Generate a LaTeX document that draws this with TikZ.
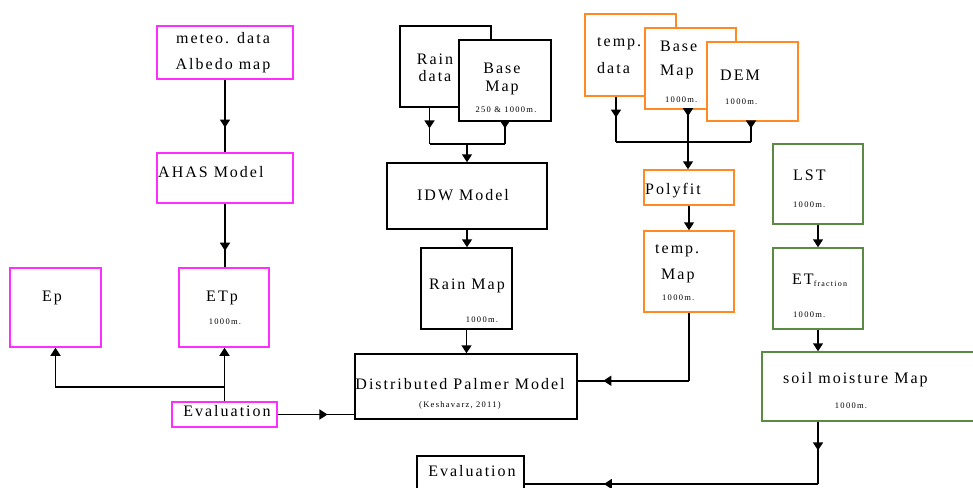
\documentclass[tikz,border=0pt]{standalone}
\usepackage{fontspec}
\setmainfont[LetterSpace=12.5]{Liberation Serif}
\newfontfamily\smallfont[LetterSpace=15]{Liberation Serif}
\usepackage{tikz}
\usetikzlibrary{calc}
\usetikzlibrary{arrows.meta}
\usetikzlibrary{decorations.markings}
\definecolor{pinkline}{HTML}{FF2EFF}
\definecolor{orangeline}{HTML}{FF8A24}
\definecolor{greenline}{HTML}{5A8A44}
\newcommand{\boxlw}{1.5pt}
\newcommand{\tipshape}{Triangle[width=10pt,length=8pt]}
\tikzset{flowbox/.style={rectangle, draw, fill=white, line width=\boxlw, inner sep=0pt}}
\tikzset{pinkbox/.style={flowbox, draw=pinkline}}
\tikzset{orangebox/.style={flowbox, draw=orangeline}}
\tikzset{greenbox/.style={flowbox, draw=greenline}}
\tikzset{blackbox/.style={flowbox, draw=black}}
\tikzset{lbl/.style={inner sep=0pt, text height=11pt, text depth=3pt, font=\fontsize{16}{18}\selectfont}}
\tikzset{smalllbl/.style={inner sep=0pt, font=\smallfont\fontsize{8.5}{9}\selectfont}}
\tikzset{link/.style={line width=1.6pt}}
\tikzset{arrowlink/.style={link, -{\tipshape}}}
\tikzset{midlink/.style={link, postaction={decorate}, decoration={markings, mark=at position #1 with {\arrow{\tipshape}}}}}

\begin{document}
\begin{tikzpicture}[x=1pt, y=-1pt]

\useasboundingbox (0,0) rectangle (973,487);
\clip (0,0) rectangle (973,487);

% evapotranspiration (AHAS)
\node[pinkbox, minimum width=136, minimum height=53] (meteo) at (225,52.5) {};
\node[lbl] (meteo-1) at (223,40) {meteo. data};
\node[lbl] (meteo-2) at (223,65) {Albedo map};

\node[pinkbox, minimum width=136, minimum height=50] (ahas) at (225,178) {};
\node[lbl, anchor=west] (ahas-1) at (158,173) {AHAS Model};

\node[pinkbox, minimum width=91, minimum height=79] (ep) at (55.5,307.5) {};
\node[lbl] (ep-1) at (52,297) {Ep};

\node[pinkbox, minimum width=90, minimum height=79] (etp) at (224,307.5) {};
\node[lbl] (etp-1) at (222,297) {ETp};
\node[smalllbl] (etp-2) at (225,322) {1000m.};

\node[pinkbox, minimum width=105, minimum height=25] (evall) at (224.5,414.5) {};
\node[lbl] (evall-1) at (227,412) {Evaluation};

% rain
\node[blackbox, minimum width=91, minimum height=81] (raindata) at (445.5,66.5) {};
\node[lbl] (raindata-1) at (435,60) {Rain};
\node[lbl] (raindata-2) at (435,77) {data};

\node[blackbox, minimum width=92, minimum height=81] (basemapb) at (505,80.5) {};
\node[lbl] (basemapb-1) at (502,70) {Base};
\node[lbl] (basemapb-2) at (502,87) {Map};
\node[smalllbl] (basemapb-3) at (506,110) {250 \& 1000m.};

\node[blackbox, minimum width=160, minimum height=66] (idw) at (467,196) {};
\node[lbl] (idw-1) at (463,196) {IDW Model};

\node[blackbox, minimum width=91, minimum height=81] (rainmap) at (466.5,288.5) {};
\node[lbl] (rainmap-1) at (467,285) {Rain Map};
\node[smalllbl] (rainmap-2) at (482,320) {1000m.};

\node[blackbox, minimum width=222, minimum height=65] (dpm) at (466,386.5) {};
\node[lbl] (dpm-1) at (460,385) {Distributed Palmer Model};
\node[smalllbl] (dpm-2) at (460,405) {(Keshavarz, 2011)};

\node[blackbox, minimum width=107, minimum height=56] (evalc) at (470.5,484) {};
\node[lbl] (evalc-1) at (472,472) {Evaluation};

% temperature
\node[orangebox, minimum width=91, minimum height=82] (tempdata) at (630.5,55) {};
\node[lbl, anchor=west] (tempdata-1) at (597,43) {temp.};
\node[lbl, anchor=west] (tempdata-2) at (597,70) {data};

\node[orangebox, minimum width=91, minimum height=81] (basemapo) at (690.5,68.5) {};
\node[lbl, anchor=west] (basemapo-1) at (660,48) {Base};
\node[lbl, anchor=west] (basemapo-2) at (660,71) {Map};
\node[smalllbl, anchor=west] (basemapo-3) at (665,100) {1000m.};

\node[orangebox, minimum width=91, minimum height=79] (dem) at (752.5,81.5) {};
\node[lbl, anchor=west] (dem-1) at (720,76) {DEM};
\node[smalllbl, anchor=west] (dem-2) at (725,102) {1000m.};

\node[orangebox, minimum width=90, minimum height=35] (polyfit) at (689,187.5) {};
\node[lbl, anchor=west] (polyfit-1) at (645,190) {Polyfit};

\node[orangebox, minimum width=90, minimum height=81] (tempmap) at (689,271.5) {};
\node[lbl, anchor=west] (tempmap-1) at (655,249) {temp.};
\node[lbl, anchor=west] (tempmap-2) at (661,275) {Map};
\node[smalllbl, anchor=west] (tempmap-3) at (662,298) {1000m.};

% soil moisture
\node[greenbox, minimum width=90, minimum height=80] (lst) at (818,184) {};
\node[lbl, anchor=west] (lst-1) at (793,176) {LST};
\node[smalllbl, anchor=west] (lst-2) at (793,205) {1000m.};

\node[greenbox, minimum width=90, minimum height=81] (etf) at (818,288.5) {};
\node[lbl, anchor=west] (etf-1) at (792,280) {ET\raisebox{-2pt}{\smallfont\fontsize{8}{9}\selectfont fraction}};
\node[smalllbl, anchor=west] (etf-2) at (793,315) {1000m.};

\node[greenbox, minimum width=228, minimum height=69] (soil) at (876,386.5) {};
\node[lbl, anchor=west] (soil-1) at (783,379) {soil moisture Map};
\node[smalllbl] (soil-2) at (851,406) {1000m.};

% connectors
\draw[midlink=0.66] (meteo) -- (ahas);
\draw[midlink=0.74] (ahas.south) -- (ahas.south |- etp.north);

\coordinate (evj) at ($(evall.north)+(0,-14)$);
\draw[link] (evall.north) -- (evj);
\draw[arrowlink] (evj) -| (ep.south);
\draw[arrowlink] (evj) -- (evj |- etp.south);
\draw[midlink=0.65] (evall.east) -- (evall.east -| dpm.west);

\coordinate (rj) at (467,144);
\coordinate (rd) at ($(raindata.south)+(-16,0)$);
\draw[midlink=0.57] (rd) -- (rd |- rj);
\draw[midlink=0.3] (basemapb.south) -- (basemapb.south |- rj);
\draw[link] (rd |- rj) -- (basemapb.south |- rj);
\draw[arrowlink] (rj) -- (idw.north);
\draw[arrowlink] (idw.south) -- (idw.south |- rainmap.north);
\draw[arrowlink] (rainmap.south) -- (rainmap.south |- dpm.north);

\coordinate (tj) at (688,142);
\coordinate (td) at ($(tempdata.south)+(-14.5,0)$);
\coordinate (bd) at ($(basemapo.south)+(-2.5,0)$);
\coordinate (dd) at ($(dem.south)+(-1.5,0)$);
\draw[midlink=0.46] (td) -- (td |- tj);
\draw[midlink=0.2] (bd) -- (bd |- tj);
\draw[midlink=0.33] (dd) -- (dd |- tj);
\draw[link] (td |- tj) -- (dd |- tj);
\draw[arrowlink] (tj) -- (tj |- polyfit.north);
\draw[arrowlink] (polyfit) -- (tempmap);
\coordinate (tk) at ($(tempmap.south)+(0,68)$);
\draw[link] (tempmap.south) -- (tk);
\draw[midlink=0.77] (tk) -- (tk -| dpm.east);

\draw[arrowlink] (lst) -- (etf);
\draw[arrowlink] (etf.south) -- (etf.south |- soil.north);
\coordinate (sd) at (etf.south |- soil.south);
\draw[midlink=0.46] (sd) -- (sd |- evalc.east);
\draw[midlink=0.73] (sd |- evalc.east) -- (evalc.east);

\end{tikzpicture}
\end{document}
